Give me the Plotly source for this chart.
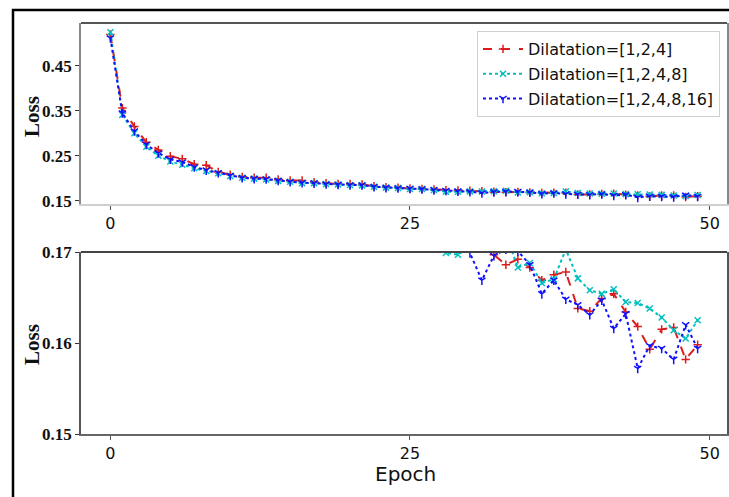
import plotly.graph_objects as go

# Training loss per epoch for three dilation schedules
epochs = list(range(50))

loss_d124 = [0.520, 0.356, 0.315, 0.280, 0.263, 0.249, 0.243, 0.231, 0.229, 0.214,
             0.208, 0.203, 0.201, 0.201, 0.197, 0.195, 0.195, 0.191, 0.189, 0.187,
             0.187, 0.186, 0.182, 0.180, 0.179, 0.177, 0.176, 0.175, 0.1735, 0.1728,
             0.1722, 0.1712, 0.1697, 0.1686, 0.1692, 0.1683, 0.1669, 0.1675, 0.1678, 0.1638,
             0.1635, 0.1649, 0.1654, 0.1634, 0.1618, 0.1593, 0.1615, 0.1617, 0.1582, 0.1598]

loss_d1248 = [0.525, 0.341, 0.300, 0.270, 0.250, 0.237, 0.230, 0.222, 0.216, 0.211,
              0.205, 0.201, 0.199, 0.197, 0.194, 0.192, 0.189, 0.189, 0.187, 0.186,
              0.185, 0.184, 0.181, 0.179, 0.178, 0.176, 0.176, 0.1735, 0.1699, 0.1697,
              0.1706, 0.1703, 0.1710, 0.1720, 0.1683, 0.1688, 0.1666, 0.1670, 0.1703, 0.1671,
              0.1658, 0.1654, 0.1659, 0.1645, 0.1644, 0.1638, 0.1628, 0.1614, 0.1605, 0.1625]

loss_d124816 = [0.512, 0.345, 0.305, 0.275, 0.256, 0.242, 0.236, 0.225, 0.218, 0.212,
                0.206, 0.201, 0.199, 0.198, 0.195, 0.192, 0.190, 0.189, 0.187, 0.186,
                0.185, 0.185, 0.181, 0.179, 0.178, 0.177, 0.176, 0.174, 0.1725, 0.1712,
                0.1699, 0.1669, 0.1696, 0.1703, 0.1701, 0.1686, 0.1654, 0.1669, 0.1648, 0.1642,
                0.1631, 0.1647, 0.1616, 0.1632, 0.1572, 0.1597, 0.1594, 0.1582, 0.1620, 0.1594]

series_names = ["Dilatation=[1,2,4]", "Dilatation=[1,2,4,8]", "Dilatation=[1,2,4,8,16]"]
x_ticks = [0, 25, 50]
top_y_ticks = [0.15, 0.25, 0.35, 0.45]
bottom_y_ticks = [0.15, 0.16, 0.17]

W, H = 729, 497


def px_x(p):
    return p / W


def px_y(p):
    return 1 - p / H


styles = [
    dict(color="#dc1c1c", dash="dash", symbol="cross-thin", size=6),
    dict(color="#00bfbf", dash="dot", symbol="x-thin", size=6),
    dict(color="#1010ff", dash="dot", symbol="y-down", size=6),
]
all_losses = [loss_d124, loss_d1248, loss_d124816]

fig = go.Figure()
for i, (name, ys, st) in enumerate(zip(series_names, all_losses, styles)):
    for axis_idx, (xa, ya) in enumerate([("x", "y"), ("x2", "y2")]):
        fig.add_trace(go.Scatter(
            x=epochs, y=ys, xaxis=xa, yaxis=ya,
            mode="lines+markers", name=name,
            legendgroup=f"g{i}", showlegend=(axis_idx == 0),
            line=dict(color=st["color"], dash=st["dash"], width=2),
            marker=dict(symbol=st["symbol"], size=st["size"], color=st["color"],
                        line=dict(color=st["color"], width=1.5)),
        ))

x_dom = [px_x(81), px_x(727)]
serif_bold = dict(family="Liberation Serif", size=17, color="#111")
sans = dict(family="DejaVu Sans", size=16, color="#111")

common_x = dict(range=[-2.45, 51.45], tickvals=x_ticks, ticks="outside", ticklen=4,
                tickcolor="#555", tickfont=sans, showgrid=False, zeroline=False,
                automargin=False, domain=x_dom)
common_y = dict(ticks="outside", ticklen=4, tickcolor="#333", showgrid=False,
                zeroline=False, automargin=False, showline=True, mirror=True)

fig.update_layout(
    width=W, height=H,
    margin=dict(l=0, r=0, t=0, b=0),
    paper_bgcolor="white", plot_bgcolor="white",
    xaxis=dict(**common_x, anchor="y", showline=True, linecolor="#cfcfcf", linewidth=1.5),
    yaxis=dict(**common_y, range=[0.1425, 0.5455], tickvals=top_y_ticks,
               ticktext=[f"<b>{v:.2f}</b>" for v in top_y_ticks], tickfont=serif_bold,
               linecolor="#888", linewidth=1.5,
               domain=[px_y(204), px_y(23)]),
    xaxis2=dict(**common_x, anchor="y2", showline=True, linecolor="#666", linewidth=1.5),
    yaxis2=dict(**common_y, range=[0.15, 0.17], tickvals=bottom_y_ticks,
                ticktext=[f"<b>{v:.2f}</b>" for v in bottom_y_ticks], tickfont=serif_bold,
                linecolor="#555", linewidth=1.5,
                domain=[px_y(434), px_y(252)]),
    legend=dict(x=px_x(477), y=px_y(31), xanchor="left", yanchor="top",
                bgcolor="white", bordercolor="#d0d0d0", borderwidth=1,
                font=dict(family="DejaVu Sans", size=16, color="#111"),
                traceorder="grouped", tracegroupgap=1, itemwidth=40),
    showlegend=True,
)

# darker top spines of both panels
fig.add_shape(type="line", xref="x domain", yref="y domain", x0=0, x1=1, y0=1, y1=1,
              line=dict(color="#555", width=1.8))
fig.add_shape(type="line", xref="x2 domain", yref="y2 domain", x0=0, x1=1, y0=1, y1=1,
              line=dict(color="#444", width=1.8))

# outer frame
fig.add_shape(type="rect", xref="paper", yref="paper",
              x0=px_x(13), x1=1.05, y0=-0.05, y1=px_y(10),
              line=dict(color="black", width=2.5), layer="above")

# axis titles
loss_font = dict(family="Liberation Serif", size=21, color="#111")
for cy in (116, 344):
    fig.add_annotation(text="<b>Loss</b>", x=px_x(32), y=px_y(cy), xref="paper", yref="paper",
                       xanchor="center", yanchor="middle",
                       textangle=-90, showarrow=False, font=loss_font)
fig.add_annotation(text="Epoch", x=px_x(405), y=px_y(474), xref="paper", yref="paper",
                   xanchor="center", yanchor="middle",
                   showarrow=False, font=dict(family="DejaVu Sans", size=20, color="#111"))

fig.write_html("out.html")
